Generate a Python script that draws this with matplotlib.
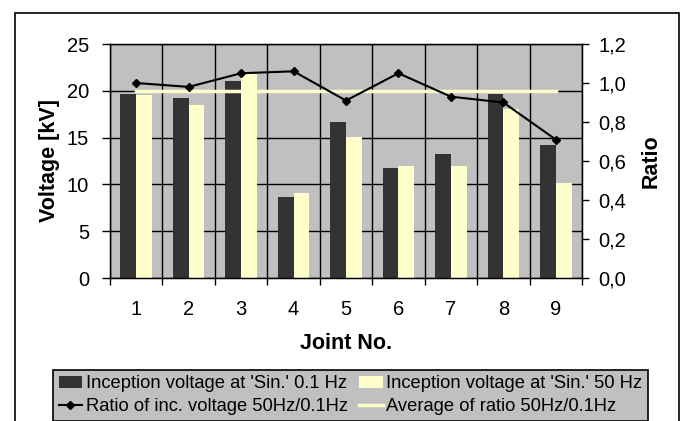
import matplotlib.pyplot as plt
import numpy as np
from matplotlib.patches import Rectangle
from matplotlib.ticker import FuncFormatter

plt.rcParams['font.family'] = ['Liberation Sans', 'DejaVu Sans']

joints = ['1', '2', '3', '4', '5', '6', '7', '8', '9']
volt_01hz = [19.7, 19.2, 21.1, 8.7, 16.7, 11.7, 13.2, 19.7, 14.2]
volt_50hz = [19.5, 18.5, 21.8, 9.1, 15.1, 12.0, 12.0, 18.1, 10.1]
ratio = [1.00, 0.98, 1.05, 1.06, 0.91, 1.05, 0.93, 0.90, 0.71]
avg_ratio = 0.96

dark = '#333333'
pale = '#FFFFCC'
plot_bg = '#C0C0C0'

fig = plt.figure(figsize=(6.86, 4.21), dpi=100)
ax = fig.add_axes([110/686, 1 - 278/421, 472/686, 234/421])
ax.set_facecolor(plot_bg)

x = np.arange(len(joints))
b1 = ax.bar(x - 0.15, volt_01hz, 0.3, color=dark, zorder=2)
b2 = ax.bar(x + 0.15, volt_50hz, 0.3, color=pale, zorder=2)

ax.set_xlim(-0.5, len(joints) - 0.5)
ax.set_ylim(0, 25)
ax.set_yticks([0, 5, 10, 15, 20, 25])
ax.set_xticks(x)
ax.set_xticklabels(joints)
ax.set_xticks(np.arange(len(joints) + 1) - 0.5, minor=True)
ax.tick_params(axis='x', which='major', length=0, pad=16, labelsize=14.5)
ax.tick_params(axis='x', which='minor', length=5, width=1, direction='out')
ax.tick_params(axis='y', length=6, width=1, pad=9, labelsize=14.5)
ax.set_axisbelow(True)
ax.grid(axis='y', which='major', color='black', lw=1)
ax.grid(axis='x', which='minor', color='black', lw=1)
for s in ax.spines.values():
    s.set_color('black')
    s.set_linewidth(1)

ax.set_ylabel('Voltage [kV]', fontsize=15.5, fontweight='bold', labelpad=5)
ax.set_xlabel('Joint No.', fontsize=15.5, fontweight='bold', labelpad=10)

ax2 = ax.twinx()
l1, = ax2.plot(x, ratio, color='black', lw=1.5, marker='D', markersize=4, zorder=4)
l2, = ax2.plot(x, [avg_ratio] * len(joints), color=pale, lw=2.5, zorder=3)
ax2.set_ylim(0, 1.2)
ax2.set_yticks(np.arange(0, 1.21, 0.2))
ax2.yaxis.set_major_formatter(FuncFormatter(lambda v, p: f'{v:.1f}'.replace('.', ',')))
ax2.tick_params(axis='y', length=5, width=1, pad=7, labelsize=14.5)
ax2.set_ylabel('Ratio', fontsize=15.5, fontweight='bold', labelpad=10)

leg = fig.legend([b1, l1, b2, l2],
                 ["Inception voltage at 'Sin.' 0.1 Hz",
                  'Ratio of inc. voltage 50Hz/0.1Hz',
                  "Inception voltage at 'Sin.' 50 Hz",
                  'Average of ratio 50Hz/0.1Hz'],
                 ncol=2, loc='upper left', bbox_to_anchor=(53/686, 1 - 370/421),
                 fontsize=13.2, frameon=True, fancybox=False, facecolor=plot_bg,
                 edgecolor='black', framealpha=1, borderpad=0.3, labelspacing=0.3,
                 handlelength=1.3, handleheight=0.55, handletextpad=0.2,
                 columnspacing=0.6, borderaxespad=0)
leg.get_frame().set_linewidth(1.2)

fig.add_artist(Rectangle((15/686, -0.1), (679 - 15)/686, 1.1 - 13/421,
                         transform=fig.transFigure, fill=False, lw=1.2,
                         edgecolor='black', clip_on=False))

fig.savefig('out.png', dpi=100)
